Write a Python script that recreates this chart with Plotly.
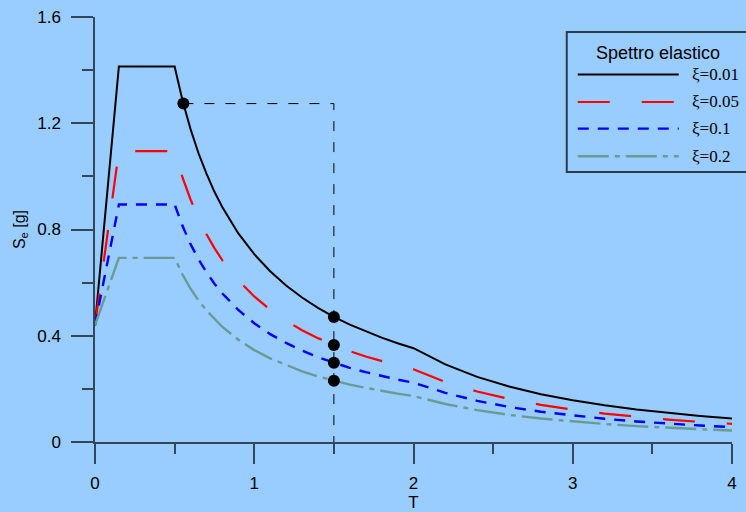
import plotly.graph_objects as go

# ---- data ----
T = [0, 0.15, 0.5, 0.55, 0.6, 0.65, 0.7, 0.75, 0.8, 0.9, 1.0, 1.1, 1.2, 1.3, 1.4,
     1.5, 1.6, 1.7, 1.8, 1.9, 2.0, 2.2, 2.4, 2.6, 2.8, 3.0, 3.2, 3.4, 3.6, 3.8, 4.0]

Se_001 = [0.44, 1.414, 1.414, 1.285, 1.178, 1.087, 1.010, 0.942, 0.884, 0.785, 0.707,
          0.643, 0.589, 0.544, 0.505, 0.471, 0.442, 0.416, 0.393, 0.372, 0.353,
          0.292, 0.245, 0.209, 0.180, 0.157, 0.138, 0.122, 0.109, 0.0979, 0.0884]
Se_005 = [0.44, 1.095, 1.095, 0.995, 0.913, 0.842, 0.782, 0.730, 0.684, 0.608, 0.548,
          0.498, 0.456, 0.421, 0.391, 0.365, 0.342, 0.322, 0.304, 0.288, 0.274,
          0.226, 0.190, 0.162, 0.140, 0.122, 0.107, 0.0947, 0.0845, 0.0758, 0.0684]
Se_010 = [0.44, 0.894, 0.894, 0.813, 0.745, 0.688, 0.639, 0.596, 0.559, 0.497, 0.447,
          0.406, 0.373, 0.344, 0.319, 0.298, 0.279, 0.263, 0.248, 0.235, 0.2235,
          0.185, 0.155, 0.132, 0.114, 0.0993, 0.0873, 0.0773, 0.0690, 0.0619, 0.0559]
Se_020 = [0.44, 0.693, 0.693, 0.630, 0.577, 0.533, 0.495, 0.462, 0.433, 0.385, 0.346,
          0.315, 0.289, 0.266, 0.247, 0.231, 0.216, 0.204, 0.192, 0.182, 0.173,
          0.143, 0.120, 0.102, 0.0883, 0.0770, 0.0676, 0.0599, 0.0534, 0.0480, 0.0433]

series_names = ["ξ=0.01", "ξ=0.05", "ξ=0.1", "ξ=0.2"]

guide_T = [0.555, 1.5, 1.5]
guide_S = [1.274, 1.274, 0.0]

dots_T = [0.555, 1.5, 1.5, 1.5, 1.5]
dots_S = [1.274, 0.471, 0.365, 0.298, 0.231]

x_ticks = [0, 1, 2, 3, 4]
y_ticks = [0, 0.4, 0.8, 1.2, 1.6]
y_tick_labels = ["0", "0.4", "0.8", "1.2", "1.6"]

# ---- styles ----
BG = "#99ccff"
AX = "#34475a"
styles = [
    dict(color="#000000", width=2, dash="solid"),
    dict(color="#ff0000", width=2.2, dash="32px,32px"),
    dict(color="#0000ff", width=2.4, dash="11px,9px"),
    dict(color="#6a9a94", width=2.4, dash="31px,6px,5px,6px"),
]
series = [Se_001, Se_005, Se_010, Se_020]

fig = go.Figure()
for name, ys, st in zip(series_names, series, styles):
    fig.add_trace(go.Scatter(x=T, y=ys, mode="lines", name=name, line=st,
                             showlegend=False, hoverinfo="x+y"))

fig.add_trace(go.Scatter(x=guide_T, y=guide_S, mode="lines",
                         line=dict(color="#000000", width=1, dash="10px,11px"),
                         showlegend=False, hoverinfo="skip"))
fig.add_trace(go.Scatter(x=dots_T, y=dots_S, mode="markers",
                         marker=dict(color="#000000", size=12),
                         showlegend=False))

# ---- custom legend (decoration) ----
lx0, lx1 = 0.7406, 1.04
ly0, ly1 = 0.6353, 0.9647
fig.add_shape(type="rect", xref="paper", yref="paper", x0=lx0, x1=lx1, y0=ly0, y1=ly1,
              line=dict(color="#2b3b4b", width=2), fillcolor="rgba(0,0,0,0)", layer="above")
fig.add_annotation(xref="paper", yref="paper", x=0.8844, y=0.9162, text="Spettro elastico",
                   showarrow=False, font=dict(family="Liberation Sans", size=18, color="#000"),
                   xanchor="center", yanchor="middle")
entry_y = [0.8649, 0.80, 0.7374, 0.6722]
for name, st, yy in zip(series_names, styles, entry_y):
    fig.add_shape(type="line", xref="paper", yref="paper", x0=0.7579, x1=0.9164, y0=yy, y1=yy,
                  line=dict(color=st["color"], width=st["width"], dash=st["dash"]))
    fig.add_annotation(xref="paper", yref="paper", x=0.9336, y=yy, text=name, showarrow=False,
                       font=dict(family="Liberation Serif", size=17, color="#000"),
                       xanchor="left", yanchor="middle")

fig.update_layout(
    width=746, height=512,
    margin=dict(l=95, r=14, t=17, b=70),
    paper_bgcolor=BG, plot_bgcolor=BG,
    font=dict(family="Liberation Sans", size=17, color="#000"),
    xaxis=dict(range=[0, 4], tickvals=x_ticks, ticks="outside", ticklen=20, tickwidth=1.5,
               tickcolor=AX, showline=True, linecolor=AX, linewidth=1.5, showgrid=False,
               zeroline=False, ticklabelstandoff=5, automargin=False,
               minor=dict(dtick=0.5, ticks="outside", ticklen=10, tickwidth=1.5, tickcolor=AX,
                          showgrid=False),
               title=dict(text="T", standoff=6, font=dict(size=17))),
    yaxis=dict(range=[0, 1.6], tickvals=y_ticks, ticktext=y_tick_labels, ticks="outside",
               ticklen=22, tickwidth=1.5, tickcolor=AX, showline=True, linecolor=AX,
               linewidth=1.5, showgrid=False, zeroline=False, ticklabelstandoff=7,
               automargin=False,
               minor=dict(dtick=0.2, ticks="outside", ticklen=11, tickwidth=1.5, tickcolor=AX,
                          showgrid=False),
               title=dict(text="S<sub>e</sub> [g]", standoff=8, font=dict(size=16))),
)

fig.write_html(
    "out.html",
    config={"displayModeBar": False},
    post_script="document.body.style.margin='0';document.body.style.padding='0';"
                "document.body.style.overflow='hidden';document.body.style.background='#99ccff';",
)
